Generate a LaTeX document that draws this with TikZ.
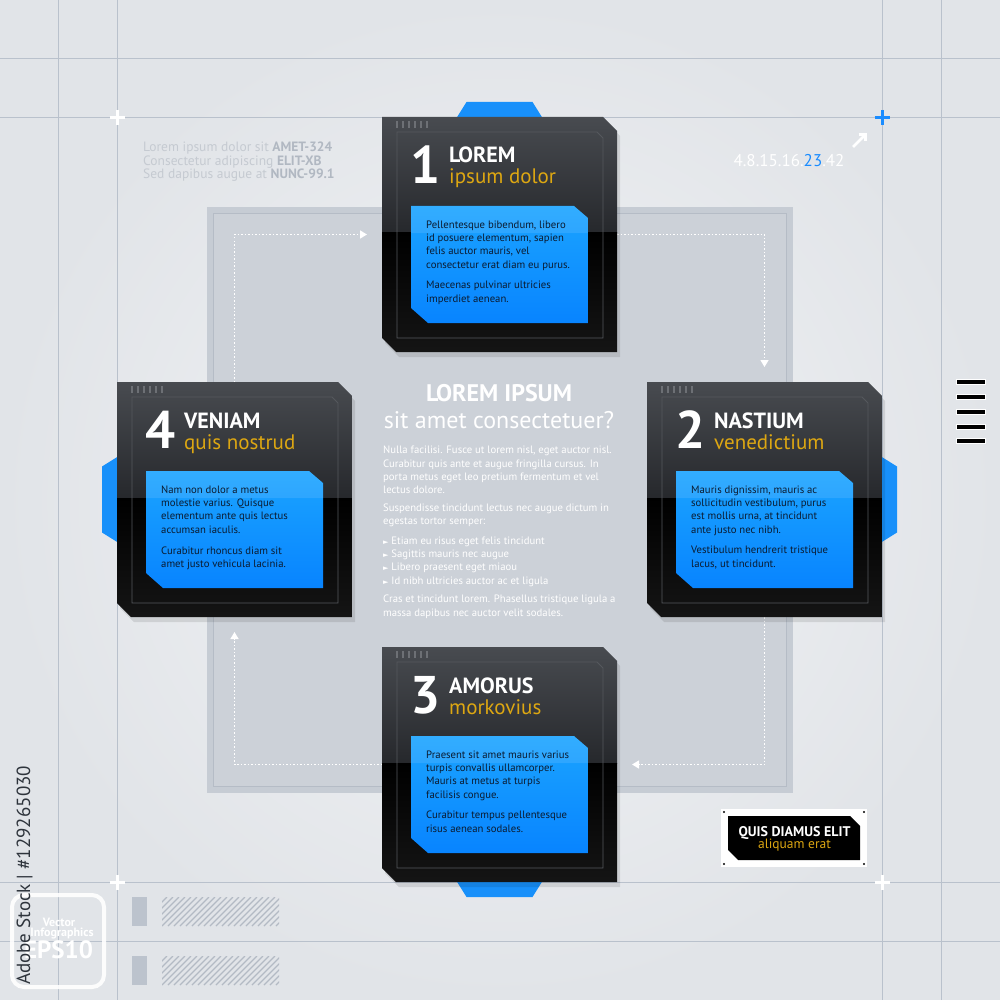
\documentclass[tikz,border=0pt]{standalone}
\usepackage{fontspec}
\setmainfont{PT Sans}
\newfontfamily\dejavu{DejaVu Sans}
\usetikzlibrary{calc,arrows.meta}
\definecolor{bgin}{HTML}{F3F4F6}
\definecolor{bgout}{HTML}{E1E4E8}
\definecolor{gridc}{HTML}{B9C1CC}
\definecolor{sqout}{HTML}{C6CCD4}
\definecolor{sqin}{HTML}{CCD1D8}
\definecolor{sqline}{HTML}{B5BCC6}
\definecolor{cardtop}{HTML}{484B50}
\definecolor{cardmid}{HTML}{26282C}
\definecolor{bluetop}{HTML}{1BA4FF}
\definecolor{bluebot}{HTML}{0884FF}
\definecolor{tabblue}{HTML}{1890FA}
\definecolor{gold}{HTML}{DDA712}
\definecolor{navy}{HTML}{0B1B30}
\definecolor{tickc}{HTML}{6D7075}
\definecolor{innerc}{HTML}{55585D}
\definecolor{tlgray}{HTML}{C5CAD1}
\definecolor{tlbold}{HTML}{B1B8C2}
\definecolor{plusblue}{HTML}{1A8CFF}
\definecolor{ctext}{HTML}{FFFFFF}
\definecolor{hatchc}{HTML}{B3BAC4}
\definecolor{boxgray}{HTML}{BCC3CD}
\definecolor{wmark}{HTML}{2E343C}
\tikzset{
  cardnode/.style={minimum width=235pt, minimum height=235pt, inner sep=0pt, outer sep=0pt},
  gridline/.style={gridc, line width=0.9pt},
  flow/.style={white, line width=1.5pt, dash pattern=on 1.5pt off 2pt, shorten >=15pt, -{Triangle[length=7pt,width=8pt]}},
  plusw/.style={white, line width=3pt},
  cardnum/.style={anchor=base west, inner sep=0pt, text=white, font=\bfseries\fontsize{53}{53}\selectfont},
  cardtitle/.style={anchor=base west, inner sep=0pt, text=white, font=\bfseries\fontsize{22}{22}\selectfont},
  cardsub/.style={anchor=base west, inner sep=0pt, text=gold, font=\fontsize{21}{21}\selectfont},
  cardbody/.style={anchor=north west, inner sep=0pt, align=left, text=navy, font=\fontsize{10.7}{13.3}\selectfont},
  tltext/.style={anchor=base west, inner sep=0pt, text=tlgray, font=\fontsize{13.5}{13.5}\selectfont},
}
\newcommand\drawcard[5]{%
\begin{scope}[shift={(#1.north west)}]
  \fill[black,opacity=0.10] (3,5)--(224,5)--(238,19)--(238,240)--(17,240)--(3,226)--cycle;
  \begin{scope}
    \clip (0,0)--(221,0)--(235,14)--(235,235)--(14,235)--(0,221)--cycle;
    \shade[top color=cardtop, bottom color=cardmid] (0,0) rectangle (235,116);
    \shade[top color=black, bottom color=black!92!white] (0,116) rectangle (235,235);
  \end{scope}
  \draw[innerc, line width=0.9pt] (15,15)--(215,15)--(221,21)--(221,221)--(15,221)--cycle;
  \foreach \i in {0,...,5}{\draw[tickc, line width=1.4pt] (15+6*\i,4)--(15+6*\i,11);}
  \begin{scope}
    \clip (29,89)--(192,89)--(206,101)--(206,206)--(46,206)--(29,191)--cycle;
    \shade[top color=bluetop, bottom color=bluebot] (29,89) rectangle (206,206);
    \fill[white, opacity=0.10] (29,89) rectangle (206,116);
  \end{scope}
  \node[cardnum] (#1-num) at (28,66.5) {#2};
  \node[cardtitle] (#1-title) at (67,46) {#3};
  \node[cardsub] (#1-sub) at (67,67) {#4};
  \node[cardbody] (#1-body) at (44,103.5) {#5};
\end{scope}}
\begin{document}
\begin{tikzpicture}[x=1pt,y=-1pt]
\useasboundingbox (0,0) rectangle (1000,1000);
% background
\shade[inner color=bgin, outer color=bgout] (0,0) rectangle (1000,1000);
% grid
\foreach \p in {58,117.5,882,941.5}{
  \draw[gridline] (\p,0)--(\p,1000);
  \draw[gridline] (0,\p)--(1000,\p);
}
% central square
\fill[sqout] (207,207) rectangle (793,793);
\filldraw[fill=sqin, draw=sqline, line width=0.9pt] (213.5,213.5) rectangle (786.5,786.5);
% card anchors
\node[cardnode] (c1) at (499.5,234.5) {};
\node[cardnode] (c2) at (764.5,499.5) {};
\node[cardnode] (c3) at (499.5,764.5) {};
\node[cardnode] (c4) at (234.5,499.5) {};
% flow arrows
\draw[flow] (c4.north) |- (c1.west);
\draw[flow] (c1.east) -| (c2.north);
\draw[flow] (c2.south) |- (c3.east);
\draw[flow] (c3.west) -| (c4.south);
% tabs
\fill[tabblue] ($(c1.north)+(-43,1)$) -- ++(10,-16) -- ++(66,0) -- ++(10,16) -- cycle;
\fill[tabblue] ($(c2.east)+(-1,-43)$) -- ++(16,10) -- ++(0,66) -- ++(-16,10) -- cycle;
\fill[tabblue] ($(c3.south)+(-43,-1)$) -- ++(10,16) -- ++(66,0) -- ++(10,-16) -- cycle;
\fill[tabblue] ($(c4.west)+(1,-43)$) -- ++(-16,10) -- ++(0,66) -- ++(16,10) -- cycle;
% cards
\drawcard{c1}{1}{LOREM}{ipsum dolor}{Pellentesque bibendum, libero\\id posuere elementum, sapien\\felis auctor mauris, vel\\consectetur erat diam eu purus.\\[7.5pt]Maecenas pulvinar ultricies\\imperdiet aenean.}
\drawcard{c2}{2}{NASTIUM}{venedictium}{Mauris dignissim, mauris ac\\sollicitudin vestibulum, purus\\est mollis urna, at tincidunt\\ante justo nec nibh.\\[7.5pt]Vestibulum hendrerit tristique\\lacus, ut tincidunt.}
\drawcard{c3}{3}{AMORUS}{morkovius}{Praesent sit amet mauris varius\\turpis convallis ullamcorper.\\Mauris at metus at turpis\\facilisis congue.\\[7.5pt]Curabitur tempus pellentesque\\risus aenean sodales.}
\drawcard{c4}{4}{VENIAM}{quis nostrud}{Nam non dolor a metus\\molestie varius. Quisque\\elementum ante quis lectus\\accumsan iaculis.\\[7.5pt]Curabitur rhoncus diam sit\\amet justo vehicula lacinia.}
% center text
\node[anchor=base, inner sep=0pt, text=white, font=\bfseries\fontsize{24}{24}\selectfont] (ctitle) at (499,401) {LOREM IPSUM};
\node[anchor=base, inner sep=0pt, text=white, font=\fontsize{24}{24}\selectfont] (csub) at (499,428) {sit amet consectetuer?};
\node[anchor=north west, inner sep=0pt, align=left, text=ctext, font=\fontsize{10.7}{13.3}\selectfont] (cbody) at (383,446) {Nulla facilisi. Fusce ut lorem nisl, eget auctor nisl.\\Curabitur quis ante et augue fringilla cursus. In\\porta metus eget leo pretium fermentum et vel\\lectus dolore.\\[4pt]Suspendisse tincidunt lectus nec augue dictum in\\egestas tortor semper:\\[6.5pt]{\dejavu\fontsize{7}{7}\selectfont ►} Etiam eu risus eget felis tincidunt\\{\dejavu\fontsize{7}{7}\selectfont ►} Sagittis mauris nec augue\\{\dejavu\fontsize{7}{7}\selectfont ►} Libero praesent eget miaou\\{\dejavu\fontsize{7}{7}\selectfont ►} Id nibh ultricies auctor ac et ligula\\[5.5pt]Cras et tincidunt lorem. Phasellus tristique ligula a\\massa dapibus nec auctor velit sodales.};
% top-left text
\node[tltext] (tl1) at (143,152) {Lorem ipsum dolor sit \textcolor{tlbold}{\bfseries AMET-324}};
\node[tltext] (tl2) at (143,165.5) {Consectetur adipiscing \textcolor{tlbold}{\bfseries ELIT-XB}};
\node[tltext] (tl3) at (143,179) {Sed dapibus augue at \textcolor{tlbold}{\bfseries NUNC-99.1}};
% top-right numbers and arrow
\node[anchor=base, inner sep=0pt, text=white, font=\fontsize{17}{17}\selectfont] (nums) at (789,167) {4.8.15.16.\textcolor{plusblue}{23}.42};
\draw[white, line width=2.6pt, -{Straight Barb[length=5pt,width=10pt]}] (853,147) -- (867,133);
% plus markers
\draw[plusw] (110,117.5)--(125,117.5) (117.5,110)--(117.5,125);
\draw[plusw] (110,882)--(125,882) (117.5,874.5)--(117.5,889.5);
\draw[plusw] (874.5,882)--(889.5,882) (882,874.5)--(882,889.5);
\draw[plusblue, line width=3pt] (874.5,117.5)--(889.5,117.5) (882,110)--(882,125);
% right bars
\foreach \y in {382,397,412,426.5,441}{
  \filldraw[fill=black, draw=white, line width=0.6pt] (956,\y-2.7) rectangle (985,\y+2.7);
}
% bottom-right label
\fill[white] (721,809) rectangle (867,867);
\fill[black] (728,816)--(850,816)--(860,826)--(860,860)--(738,860)--(728,850)--cycle;
\foreach \px/\py in {724/812,864/812,724/864,864/864}{\fill[black] (\px,\py) circle (1.2);}
\node[anchor=base, inner sep=0pt, text=white, font=\bfseries\fontsize{14}{14}\selectfont] (lbl1) at (794.5,836) {QUIS DIAMUS ELIT};
\node[anchor=base, inner sep=0pt, text=gold, font=\fontsize{13.5}{13.5}\selectfont] (lbl2) at (794.5,848.5) {aliquam erat};
% bottom-left gray blocks with hatching
\foreach \yy in {897,956}{
  \fill[boxgray] (132,\yy) rectangle (147,\yy+29);
  \begin{scope}
    \clip (162,\yy) rectangle (279,\yy+29);
    \foreach \k in {0,...,25}{\draw[hatchc, line width=1.1pt] (132+6*\k,\yy+29)--(161+6*\k,\yy);}
  \end{scope}
}
% EPS box
\draw[white, line width=4pt, rounded corners=12pt, opacity=0.9] (12,895) rectangle (104,987);
\node[anchor=base, inner sep=0pt, text=white, font=\bfseries\fontsize{12}{12}\selectfont] (eps1) at (59,926) {Vector};
\node[anchor=base, inner sep=0pt, text=white, font=\bfseries\fontsize{12}{12}\selectfont] (eps2) at (62,936.5) {Infographics};
\node[anchor=base, inner sep=0pt, text=white, font=\bfseries\fontsize{25}{25}\selectfont] (eps3) at (58.5,958) {EPS10};
% vertical side text
\node[rotate=90, anchor=base west, inner sep=0pt, text=wmark, font=\fontsize{19}{19}\selectfont] (side) at (30,985) {Adobe Stock | \#129265030};
\end{tikzpicture}
\end{document}
